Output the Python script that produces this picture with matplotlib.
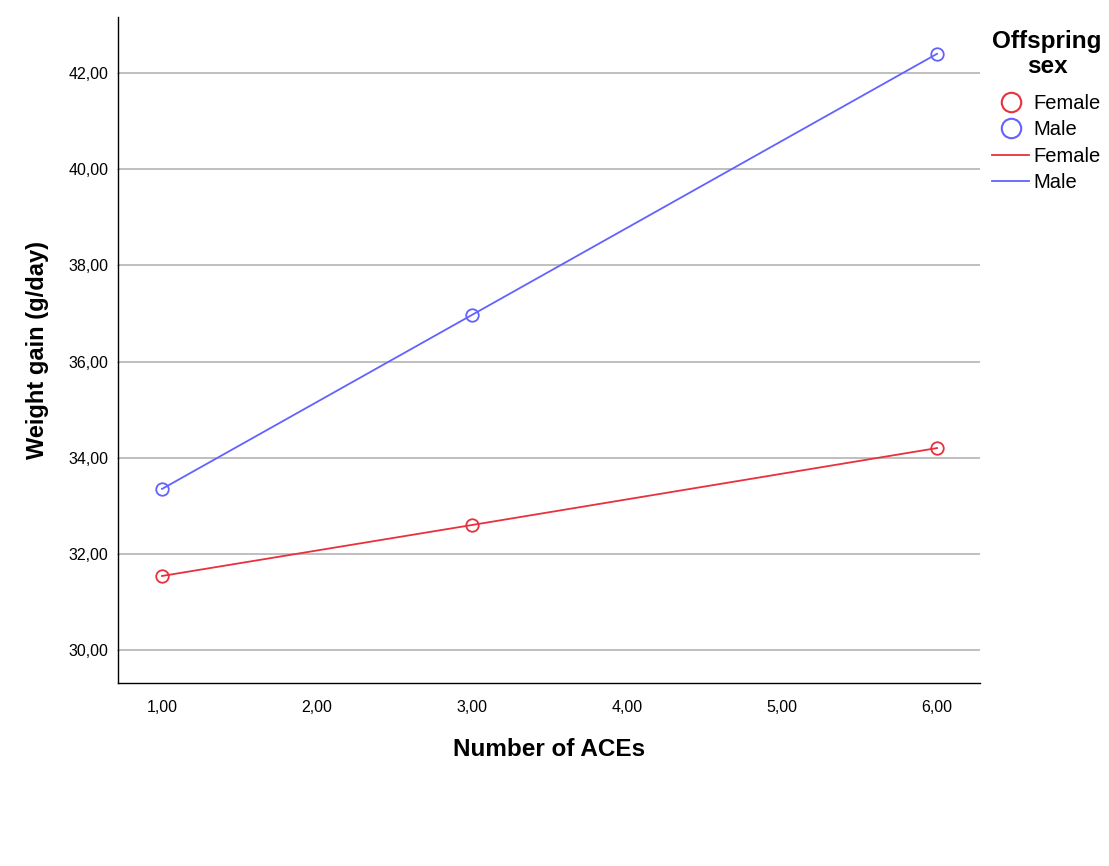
import matplotlib
matplotlib.use("Agg")
import matplotlib.pyplot as plt
from matplotlib.lines import Line2D

plt.rcParams['font.family'] = ['Liberation Sans', 'DejaVu Sans']

aces = [1, 3, 6]
female = [31.54, 32.60, 34.20]
male = [33.35, 36.97, 42.40]
xticks = [1, 2, 3, 4, 5, 6]
yticks = [30, 32, 34, 36, 38, 40, 42]

red = '#E8313C'
blue = '#6262FF'

fig = plt.figure(figsize=(11.09, 8.66), dpi=100)
ax = fig.add_axes([118/1109, 1-683/866, (980-118)/1109, (683-17)/866])

ax.set_xlim(0.716, 6.277)
ax.set_ylim(29.314, 43.165)

for yv in yticks:
    ax.axhline(yv, color='#b4b4b4', lw=1.2, zorder=1)

ax.plot(aces, female, color=red, lw=1.3, zorder=3)
ax.plot(aces, male, color=blue, lw=1.3, zorder=3)
ax.plot(aces, female, 'o', mfc='none', mec=red, ms=9, mew=1.3, zorder=4)
ax.plot(aces, male, 'o', mfc='none', mec=blue, ms=9, mew=1.3, zorder=4)

ax.set_xticks(xticks)
ax.set_xticklabels([f"{v:.2f}".replace('.', ',') for v in xticks], fontsize=11.5)
ax.set_yticks(yticks)
ax.set_yticklabels([f"{v:.2f}".replace('.', ',') for v in yticks], fontsize=11.5)
ax.tick_params(axis='x', length=0, pad=12)
ax.tick_params(axis='y', length=2, direction='inout', width=0.8, color='#888888', pad=6)

for s in ['top', 'right']:
    ax.spines[s].set_visible(False)
for s in ['left', 'bottom']:
    ax.spines[s].set_color('black')
    ax.spines[s].set_linewidth(1.0)

ax.set_xlabel('Number of ACEs', fontsize=17.5, fontweight='bold', labelpad=17)
ax.set_ylabel('Weight gain (g/day)', fontsize=17, fontweight='bold', labelpad=14)

fig.text(1047/1109, 1-54/866, 'Offspring\nsex', ha='center', va='center',
         multialignment='center', fontsize=17.5, fontweight='bold', linespacing=1.15)

handles = [
    Line2D([], [], marker='o', ls='none', mfc='none', mec=red, ms=14, mew=1.5),
    Line2D([], [], marker='o', ls='none', mfc='none', mec=blue, ms=14, mew=1.5),
    Line2D([], [], color=red, lw=1.3),
    Line2D([], [], color=blue, lw=1.3),
]
labels = ['Female', 'Male', 'Female', 'Male']
leg = fig.legend(handles, labels, loc='upper left',
                 bbox_to_anchor=(992/1109, 1-94/866), frameon=False,
                 fontsize=14.5, handlelength=1.84, handletextpad=0.22,
                 labelspacing=0.37, borderaxespad=0, borderpad=0)

fig.savefig('out.png', dpi=100)
